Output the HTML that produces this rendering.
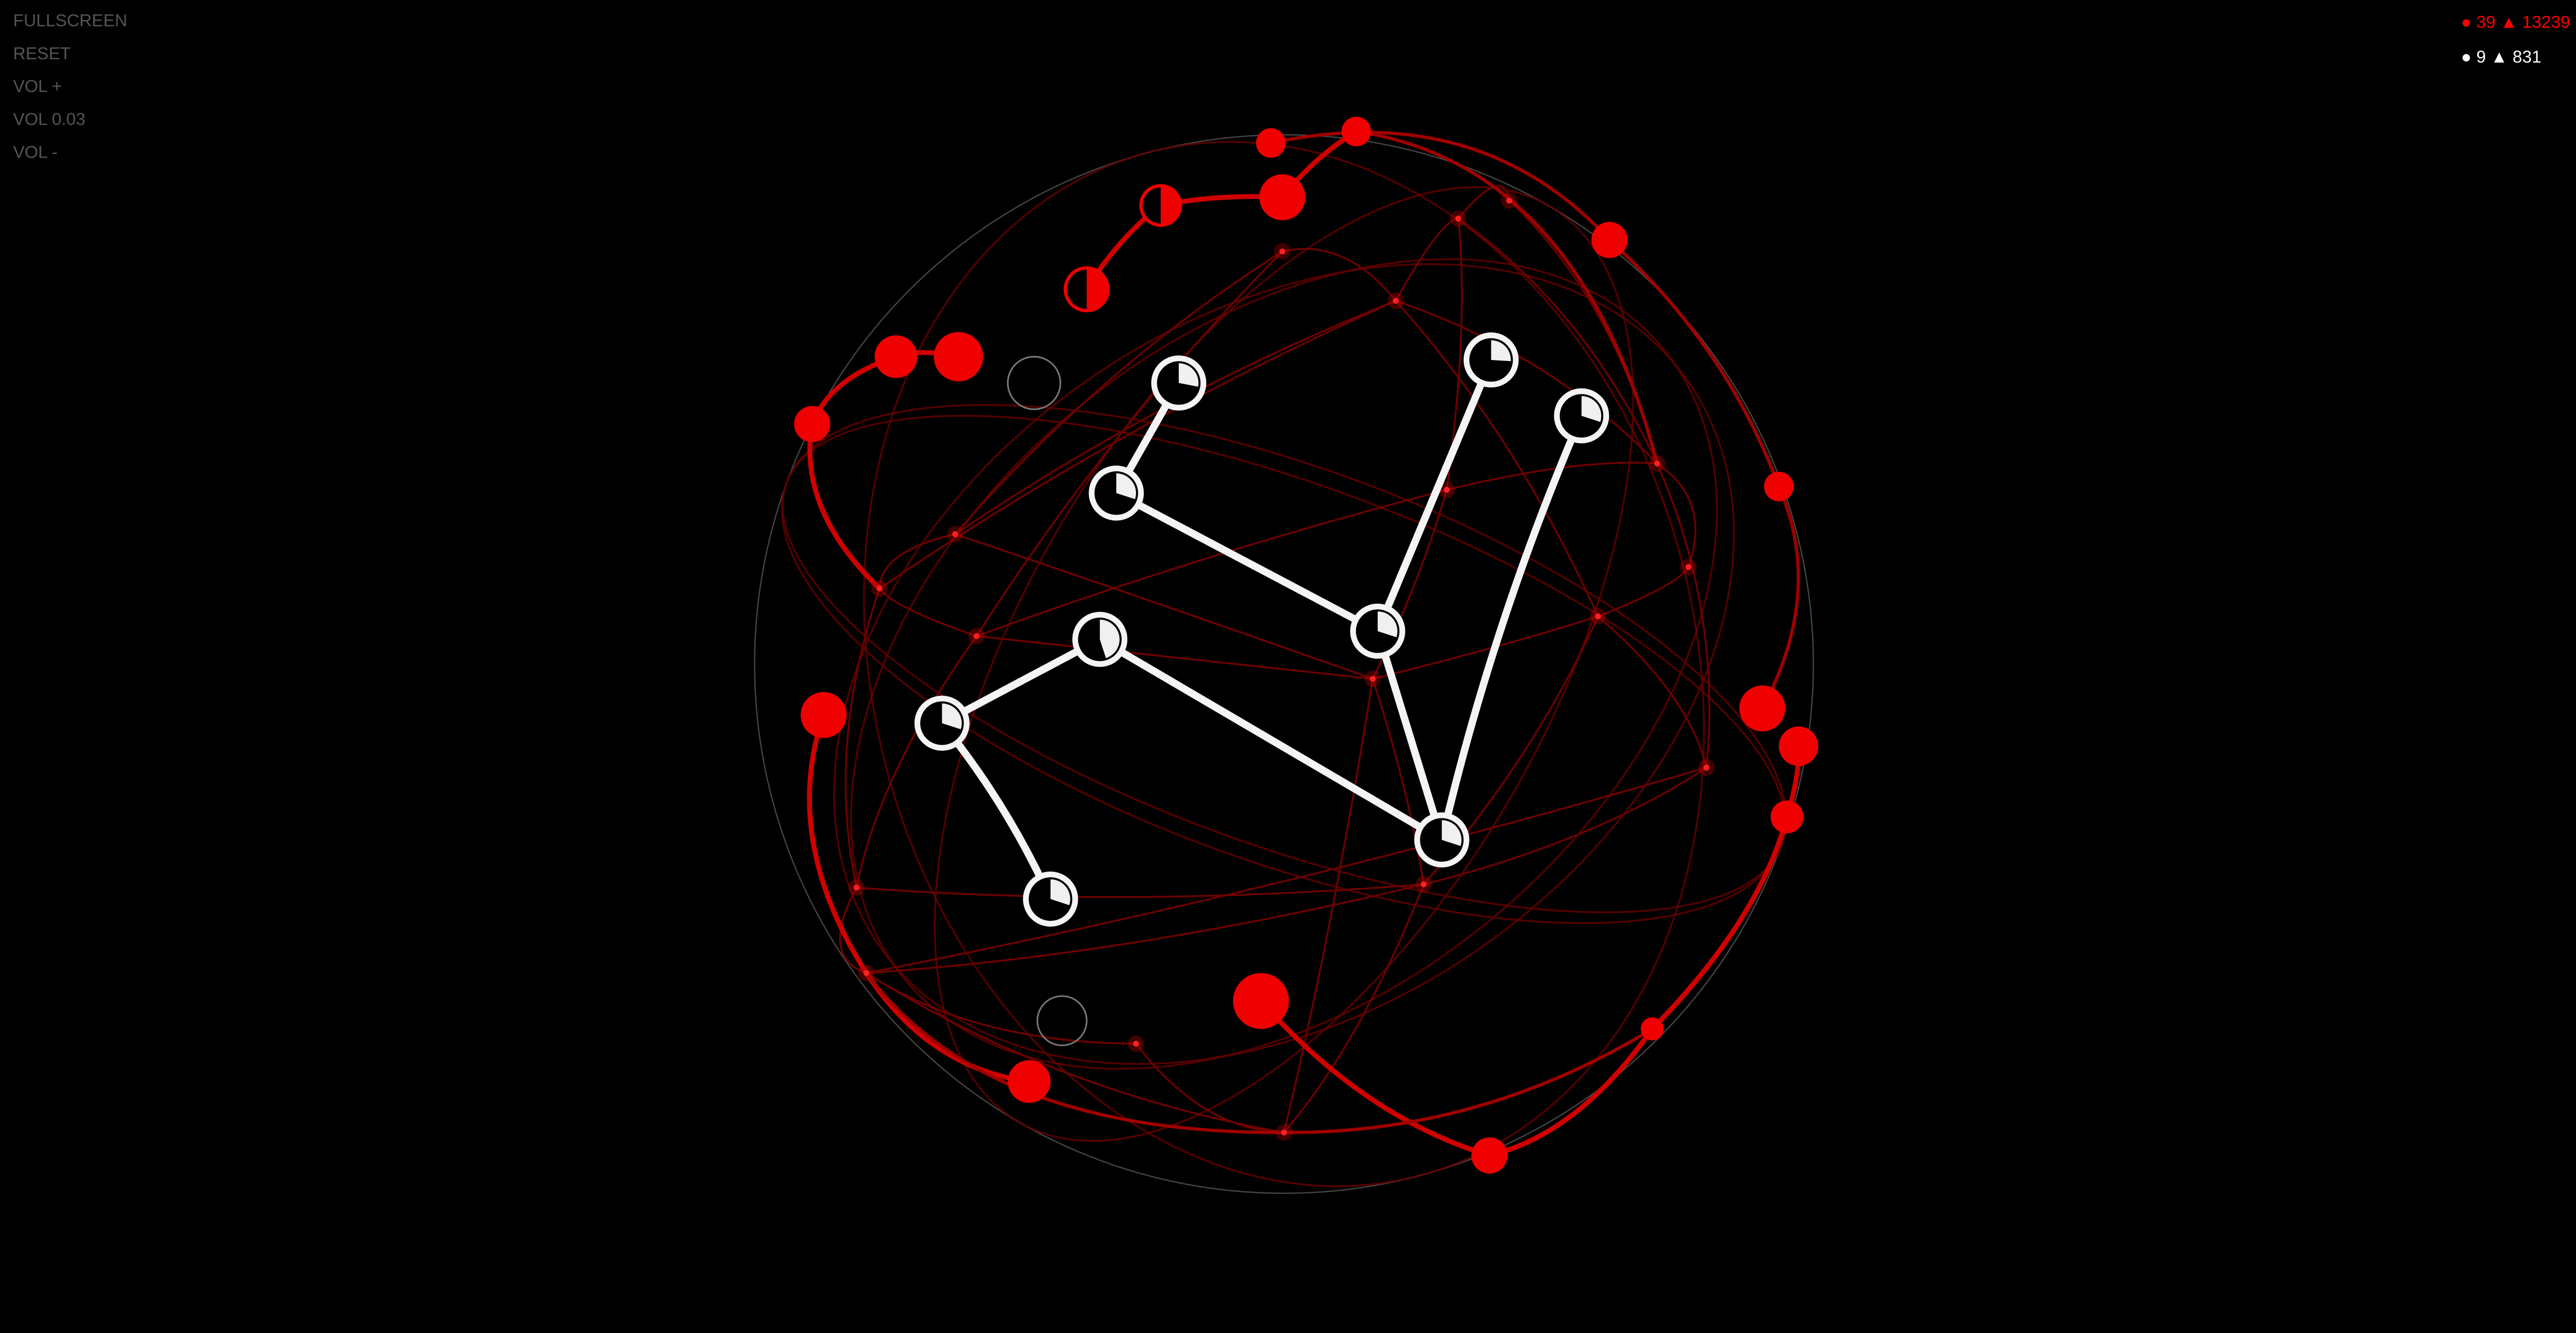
<!DOCTYPE html>
<html><head><meta charset="utf-8"><style>
html,body{margin:0;padding:0;background:#000;width:5112px;height:2588px;overflow:hidden}
svg{display:block}
.menu{font-family:"Liberation Sans",sans-serif;font-size:10.5px;fill:#555}
.stat{font-family:"Liberation Sans",sans-serif;font-size:10.5px}
</style></head><body>
<svg id="chart" width="5112" height="2588" viewBox="0 0 1602 811" preserveAspectRatio="none" xmlns="http://www.w3.org/2000/svg">
<rect width="1602" height="811" fill="#000"/>
<circle cx="781" cy="404" r="322" fill="none" stroke="#444" stroke-width="0.8"/>
<g id="thin"></g>
<g id="thick"></g>
<g id="junc"></g>
<g id="rednodes"></g>
<g id="wedges"></g>
<g id="whitenodes"></g>
<circle cx="629" cy="233" r="16" fill="none" stroke="#777" stroke-width="1"/>
<circle cx="646" cy="621" r="15" fill="none" stroke="#777" stroke-width="1"/>
<text class="menu" x="8" y="16">FULLSCREEN</text>
<text class="menu" x="8" y="36">RESET</text>
<text class="menu" x="8" y="56">VOL +</text>
<text class="menu" x="8" y="76">VOL 0.03</text>
<text class="menu" x="8" y="96">VOL -</text>
<text class="stat" x="1497" y="17" fill="#f00">● 39 ▲ 13239</text>
<text class="stat" x="1497" y="38" fill="#fff">● 9 ▲ 831</text>
</svg>
<script>
const NS="http://www.w3.org/2000/svg";
const whiteX=[717,679,838,907,962,669,573,639,877];
const whiteY=[233,300,384,219,253,389,440,547,511];
const whiteFrac=[0.28,0.3,0.3,0.26,0.3,0.45,0.3,0.3,0.3];
const whiteEdges=[[0,1,0],[1,2,0],[2,3,0],[2,8,0],[4,8,12],[5,6,0],[6,7,-8],[5,8,0]];
const redX=[780,706,661,583,545,494,501,626,767,906,979,825,773,1082,1072,1094,1087,1005];
const redY=[120,125,176,217,217,258,435,658,609,703,146,80,87,296,431,454,497,626];
const redR=[14,13,14,15,13,11,14,13,17,11,11,9,9,9,14,12,10,7];
const juncX=[780,849,887,918,1008,1027,972,1038,866,835,594,535,581,521,527,691,781,880];
const juncY=[153,183,133,122,282,345,375,467,538,413,387,358,325,540,592,635,689,298];
const thinEdges=[[0,1],[1,2],[2,3],[1,4],[4,5],[5,6],[6,7],[7,8],[8,9],[9,10],[10,11],[11,12],[12,0],[12,1],[6,9],[9,17],[17,4],[13,14],[14,15],[15,16],[16,8],[10,13],[13,8],[11,13],[0,10],[2,4],[1,6],[9,16],[14,16],[3,4],[6,8],[4,7],[12,9],[10,17],[2,17],[11,1],[7,14],[8,14]];
const thickPaths=[
 "M661,176 Q680,145 706,125 Q740,118 780,120 Q800,95 825,80",
 "M583,217 Q560,212 545,217 Q505,230 494,258 Q485,310 535,358",
 "M501,435 Q475,510 527,592 Q565,650 626,658",
 "M767,609 Q830,680 906,703 Q960,690 1005,626 Q1070,560 1087,497 Q1095,470 1094,454",
 "M773,87 Q900,60 979,146 Q1050,210 1082,296 Q1110,360 1072,431",
 "M825,80 Q960,100 1008,282",
 "M527,592 Q600,690 781,689 Q900,690 1005,626"
];
const ellRx=[322,250,160,300,210,120];
const ellRy=[110,322,322,200,300,322];
const ellRot=[20,-15,30,-40,55,-70];

function el(t,a,p){const e=document.createElementNS(NS,t);for(const k in a)e.setAttribute(k,a[k]);p.appendChild(e);return e;}
const thin=document.getElementById('thin');
for(let i=0;i<ellRx.length;i++){
 const e=el('ellipse',{cx:781,cy:404,rx:ellRx[i],ry:ellRy[i],transform:'rotate('+ellRot[i]+' 781 404)',fill:'none',stroke:'#6a0000','stroke-width':1.1,opacity:0.8},thin);
 
 
}
thinEdges.forEach(([a,b])=>{
 const mx=(juncX[a]+juncX[b])/2,my=(juncY[a]+juncY[b])/2;
 const dx=mx-781,dy=my-404;
 const p=el('path',{d:'M'+juncX[a]+','+juncY[a]+' Q'+(mx+dx*0.1)+','+(my+dy*0.1)+' '+juncX[b]+','+juncY[b],fill:'none',stroke:'#700000','stroke-width':1.1},thin);
 
 
});
const thick=document.getElementById('thick');
thickPaths.forEach((d,i)=>{
 const p=el('path',{d:d,fill:'none',stroke:i<4?'#d00000':'#a00000','stroke-width':i<4?3:2},thick);
 
 
});
const junc=document.getElementById('junc');
juncX.forEach((x,i)=>{
 const g=el('circle',{cx:x,cy:juncY[i],r:5,fill:'#c00000',opacity:0.35},junc);
 
 
 const c=el('circle',{cx:x,cy:juncY[i],r:1.8,fill:'#ff2020'},junc);
 
 
});
const rn=document.getElementById('rednodes');
redX.forEach((x,i)=>{
 const c=el('circle',{cx:x,cy:redY[i],r:redR[i],fill:'#f00000'},rn);
 
 
});
[1,2].forEach(i=>{
 const x=redX[i],y=redY[i],r=redR[i]-2;
 el('path',{d:'M'+x+','+(y-r)+' A'+r+','+r+' 0 0 0 '+x+','+(y+r)+' Z',fill:'#000'},rn);
});
const we=document.getElementById('wedges');
whiteEdges.forEach(([a,b,bend])=>{
 const x1=whiteX[a],y1=whiteY[a],x2=whiteX[b],y2=whiteY[b];
 const mx=(x1+x2)/2,my=(y1+y2)/2,dx=x2-x1,dy=y2-y1,L=Math.hypot(dx,dy);
 const qx=mx-dy/L*bend,qy=my+dx/L*bend;
 const p=el('path',{d:'M'+x1+','+y1+' Q'+qx+','+qy+' '+x2+','+y2,fill:'none',stroke:'#f4f4f4','stroke-width':4.5},we);
 
 
});
const wn=document.getElementById('whitenodes');
whiteX.forEach((x,i)=>{
 const y=whiteY[i],R=15,r=12;
 const c=el('circle',{cx:x,cy:y,r:R,fill:'#000',stroke:'#f4f4f4','stroke-width':3.5},wn);
 
 
 const ang=whiteFrac[i]*2*Math.PI;
 const ex=x+r*Math.sin(ang),ey=y-r*Math.cos(ang);
 const w=el('path',{d:'M'+x+','+y+' L'+x+','+(y-r)+' A'+r+','+r+' 0 '+(whiteFrac[i]>0.5?1:0)+' 1 '+ex+','+ey+' Z',fill:'#f0f0f0'},wn);
 
 
});
</script>
</body></html>
